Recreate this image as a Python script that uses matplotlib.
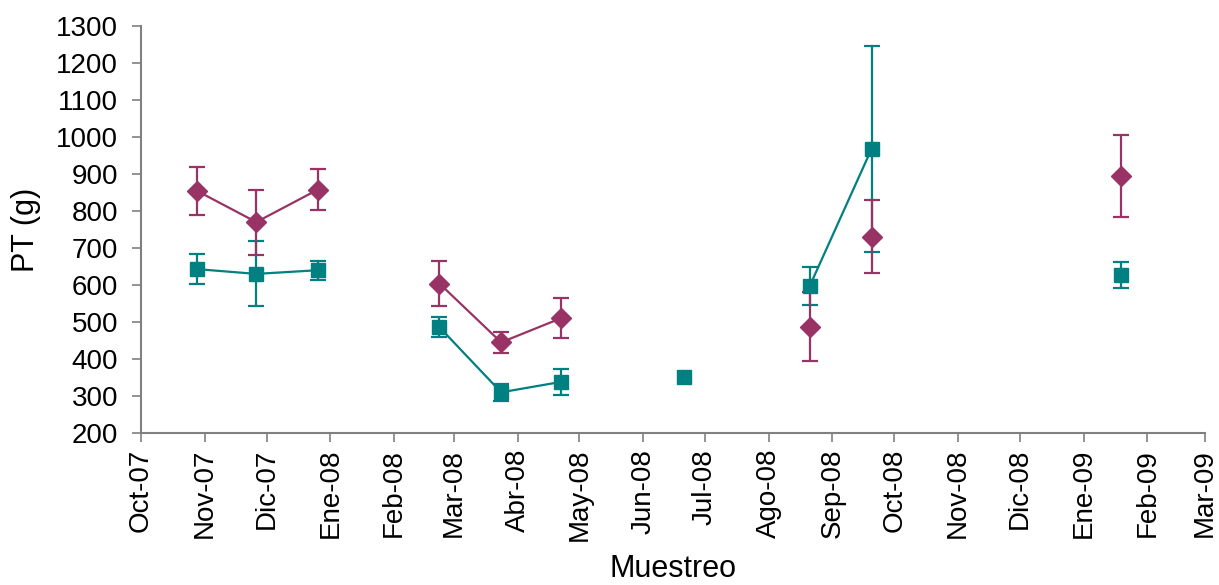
import numpy as np
import pandas as pd
import matplotlib
matplotlib.use('Agg')
import matplotlib.pyplot as plt

plt.rcParams['font.family'] = ['Liberation Sans', 'DejaVu Sans']

# sampling dates and mean PT with error (g)
fechas = pd.to_datetime(['2007-10-28', '2007-11-26', '2007-12-26', '2008-02-23', '2008-03-24',
                         '2008-04-22', '2008-06-21', '2008-08-21', '2008-09-20', '2009-01-19'])
pt_a = [855, 770, 858, 604, 445, 510, np.nan, 487, 731, 895]
err_a = [65, 88, 56, 62, 28, 54, np.nan, 93, 98, 110]
pt_b = [643, 630, 640, 486, 310, 338, 351, 598, 968, 627]
err_b = [40, 88, 26, 27, 23, 35, np.nan, 51, 278, 35]

# runs of consecutive samples joined by a line
tramos_a = [[0, 1, 2], [3, 4, 5]]
tramos_b = [[0, 1, 2], [3, 4, 5], [7, 8]]

meses = ['Oct', 'Nov', 'Dic', 'Ene', 'Feb', 'Mar', 'Abr', 'May', 'Jun', 'Jul', 'Ago', 'Sep']

morado = '#993366'
verde = '#008080'

fig = plt.figure(figsize=(12.19, 5.85), dpi=100)
ax = fig.add_axes([141 / 1219, 1 - 433 / 585, (1205 - 141) / 1219, (433 - 26) / 585])

for pt, err, tramos, color, mk, ms in [(pt_b, err_b, tramos_b, verde, 's', 9.5),
                                       (pt_a, err_a, tramos_a, morado, 'D', 10)]:
    ax.errorbar(fechas, pt, yerr=err, fmt=mk, color=color, ms=ms, ecolor=color,
                elinewidth=1.6, capsize=6, capthick=1.6, zorder=3)
    for t in tramos:
        ax.plot(fechas[t], [pt[i] for i in t], color=color, lw=1.6, zorder=2)

ax.set_xlim(pd.Timestamp('2007-10-01'), pd.Timestamp('2009-03-01'))
ax.set_ylim(200, 1300)
ax.set_yticks(range(200, 1301, 100))

ticks = pd.date_range('2007-10-01', '2009-03-01', freq='MS')
ax.set_xticks(ticks)
ax.set_xticklabels([f"{meses[(d.month - 10) % 12]}-{d.strftime('%y')}" for d in ticks],
                   rotation=90, fontsize=20)
ax.tick_params(axis='y', labelsize=20, pad=10)
ax.tick_params(axis='x', pad=5)
ax.tick_params(direction='out', length=6.5, width=1.2, color='#808080')

for s in ['top', 'right']:
    ax.spines[s].set_visible(False)
for s in ['left', 'bottom']:
    ax.spines[s].set_color('#808080')
    ax.spines[s].set_linewidth(1.5)

ax.set_ylabel('PT (g)', fontsize=22, labelpad=11)
ax.set_xlabel('Muestreo', fontsize=22, labelpad=9)

fig.savefig('out.png', dpi=100)
